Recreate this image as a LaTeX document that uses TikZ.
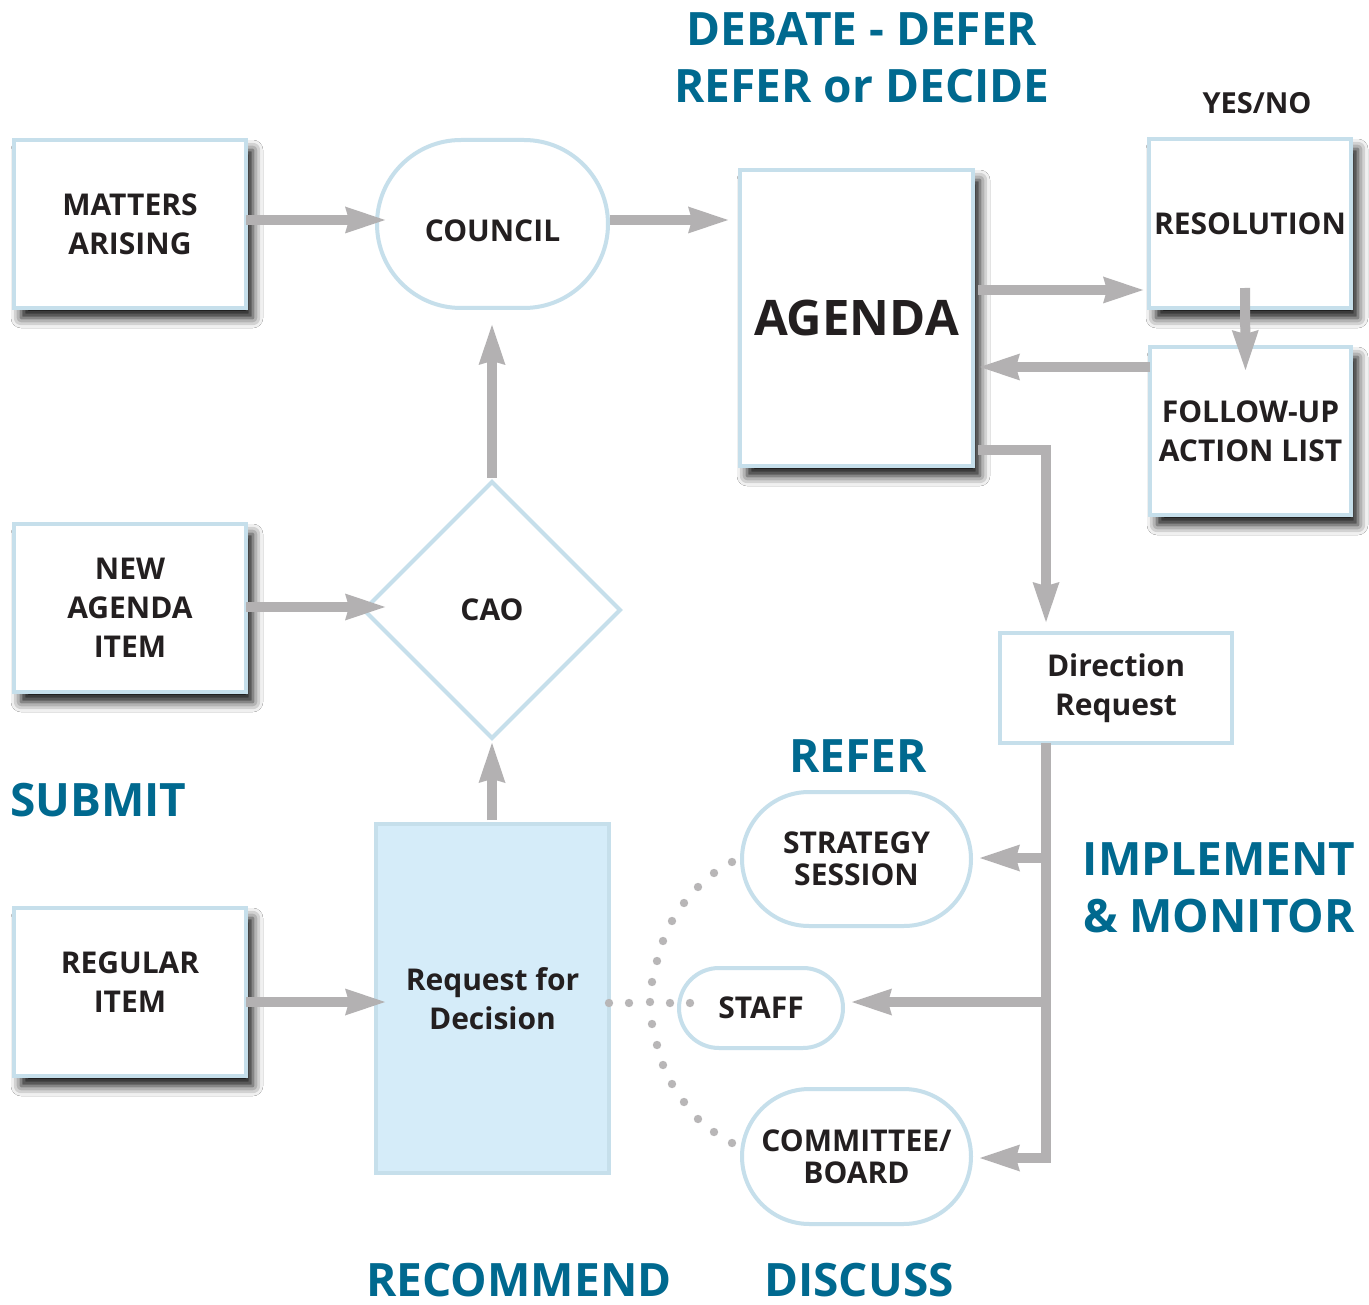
\documentclass[tikz,border=0pt]{standalone}
\usepackage{fontspec}
\setmainfont{Open Sans}
\usetikzlibrary{arrows.meta,shapes.geometric,shapes.misc,shadows.blur,calc}
\definecolor{bordc}{HTML}{C6DFEB}
\definecolor{rfdfill}{HTML}{D5ECF9}
\definecolor{arrc}{HTML}{B3B1B2}
\definecolor{dotc}{HTML}{B8B6B7}
\definecolor{teal}{HTML}{00698F}
\definecolor{txt}{HTML}{231F20}
\newcommand{\boxfont}{\fontsize{30}{39}\selectfont\bfseries}
\newcommand{\pillfont}{\fontsize{30}{32}\selectfont\bfseries}
\newcommand{\headfont}{\fontsize{46}{57}\selectfont\bfseries}
\tikzset{
  box/.style={draw=bordc, line width=4pt, fill=white, inner sep=0pt, outer sep=0pt, align=center, font=\boxfont, text=txt},
  shbox/.style={box, blur shadow={shadow xshift=7pt, shadow yshift=-10pt, shadow blur radius=10pt, shadow opacity=95}},
  pill/.style={box, rounded rectangle, font=\pillfont},
  arr/.style={draw=arrc, line width=10pt, line join=miter, -{Stealth[length=40pt,width=27pt,inset=4pt,line width=0pt]}},
  head/.style={text=teal, font=\headfont, align=center, inner sep=0pt},
  dotmark/.style={fill=dotc}
}
\begin{document}
\begin{tikzpicture}[x=1pt,y=-1pt]
\path[use as bounding box, fill=white] (0,0) rectangle (1369,1305);

% left boxes
\node[shbox, minimum width=232pt, minimum height=168pt] (matters) at (130,224) {MATTERS\\ARISING};
\node[shbox, minimum width=232pt, minimum height=168pt] (new) at (130,608) {NEW\\AGENDA\\ITEM};
\node[shbox, minimum width=232pt, minimum height=168pt, text depth=20pt] (reg) at (130,992) {REGULAR\\ITEM};

% council, cao, request
\node[box, rounded rectangle, minimum width=231pt, minimum height=168pt, text height=35pt, text depth=0pt] (council) at (492.5,224) {COUNCIL};
\node[box, diamond, aspect=1, minimum width=256pt, minimum height=256pt] (cao) at (492,610) {CAO};
\node[box, fill=rfdfill, minimum width=233pt, minimum height=349pt] (rfd) at (492.5,998.5) {Request for\\Decision};

% agenda side
\node[shbox, minimum width=233pt, minimum height=296pt, font=\fontsize{49}{55}\selectfont\bfseries] (agenda) at (856.5,318) {AGENDA};
\node[shbox, minimum width=202pt, minimum height=169pt] (resol) at (1250,223.5) {RESOLUTION};
\node[shbox, minimum width=201pt, minimum height=168pt] (follow) at (1250.5,431) {FOLLOW-UP\\ACTION LIST};
\node[box, minimum width=232pt, minimum height=110pt] (dir) at (1116,688) {Direction\\Request};

% pills
\node[pill, minimum width=229pt, minimum height=134pt] (strat) at (856.5,859) {STRATEGY\\SESSION};
\node[pill, minimum width=164pt, minimum height=80pt] (staff) at (761,1008) {STAFF};
\node[pill, minimum width=229pt, minimum height=135pt] (comm) at (856.5,1156.5) {COMMITTEE/\\BOARD};

% headings
\node[head] (debate) at (862,58) {DEBATE - DEFER\\REFER or DECIDE};
\node[text=txt, font=\fontsize{29}{32}\selectfont\bfseries, inner sep=0pt] (yesno) at (1257,103) {YES/NO};
\node[head, anchor=west] (submit) at (10,800) {SUBMIT};
\node[head] (refer) at (858,756) {REFER};
\node[head] (implement) at (1219,888) {IMPLEMENT\\\& MONITOR};
\node[head] (recommend) at (519,1280) {RECOMMEND};
\node[head] (discuss) at (859,1280) {DISCUSS};

% arrows
\draw[arr] (matters.east |- 0,220) -- ($(council.west |- 0,220)+(8,0)$);
\draw[arr] ($(council.east |- 0,220)+(2,0)$) -- ($(agenda.west |- 0,220)+(-12,0)$);
\draw[arr] ($(agenda.east |- 0,290)+(5,0)$) -- ($(resol.west |- 0,290)+(-6,0)$);
\draw[arr] ($(resol.south)+(-5,-20)$) -- ($(follow.north)+(-5,23)$);
\draw[arr] (follow.west |- 0,367) -- ($(agenda.east |- 0,367)+(7,0)$);
\draw[arr] ($(agenda.east |- 0,450)+(5,0)$) -| ($(dir.north)+(-70,-11)$);

\coordinate (trunktop) at ($(dir.south)+(-70,0)$);
\draw[arr] (trunktop) |- ($(comm.east |- 0,1158)+(9,0)$);
\draw[arr] (trunktop |- 0,858) -- ($(strat.east |- 0,858)+(9,0)$);
\draw[arr] (trunktop |- 0,1002) -- ($(staff.east |- 0,1002)+(9,0)$);

\draw[arr] (new.east |- 0,607) -- ($(cao.west |- 0,607)+(21,0)$);
\draw[arr] ($(cao.north)+(0,-4)$) -- ($(cao.north |- council.south)+(0,17)$);
\draw[arr] ($(rfd.north -| cao.south)+(0,-4)$) -- ($(cao.south)+(0,5)$);
\draw[arr] (reg.east |- 0,1002) -- ($(rfd.west |- 0,1002)+(9,0)$);

% dotted links (Request for Decision to the three referral bodies)
\coordinate (hub) at (650,1002);
\foreach \px/\py in {609/1003,629/1003,650/1002,670/1003,690/1003,
  652/982,657/961,663/941,672/921,684/903,698/887,714/873,732/862,
  652/1024,657/1045,663/1065,672/1084,684/1102,698/1119,714/1132,732/1143}
  \fill[dotmark] (\px,\py) circle (4.2pt);
\end{tikzpicture}
\end{document}
